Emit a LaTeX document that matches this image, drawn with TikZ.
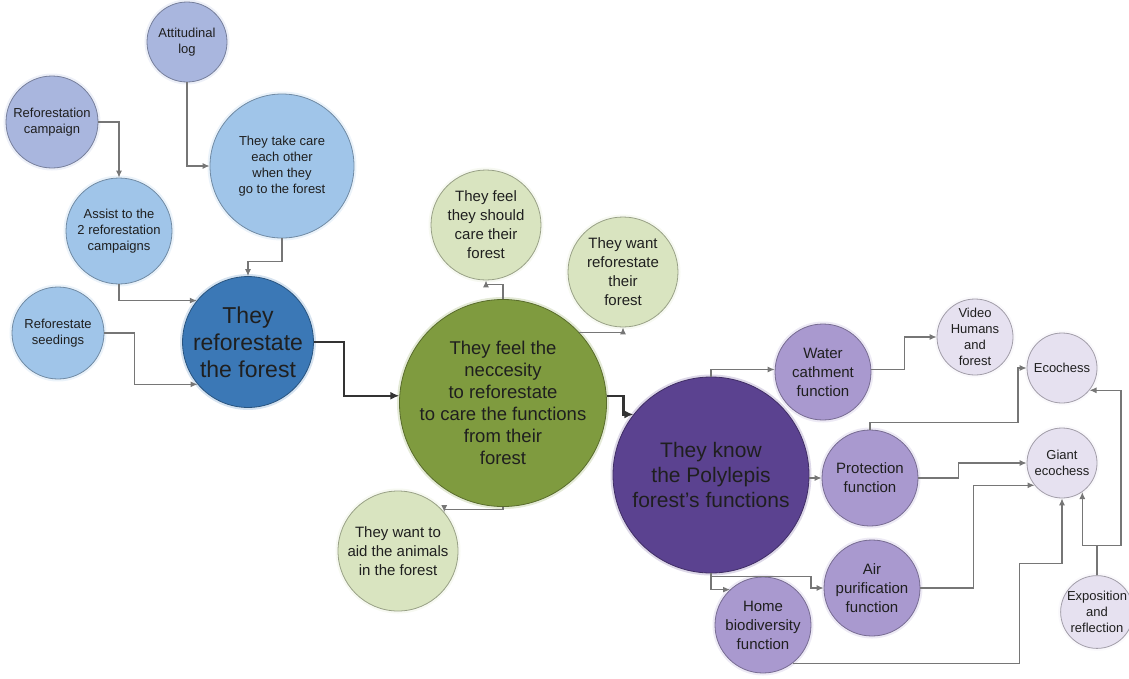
\documentclass[tikz,border=0pt]{standalone}
\usepackage{fontspec}
\setmainfont{Liberation Sans}
\usetikzlibrary{arrows.meta}
\definecolor{lavblue}{HTML}{A9B6DE}
\definecolor{skyblue}{HTML}{A0C5E9}
\definecolor{deepblue}{HTML}{3B78B6}
\definecolor{palegreen}{HTML}{D9E4C0}
\definecolor{olivegreen}{HTML}{7F9B3F}
\definecolor{deeppurple}{HTML}{5B4290}
\definecolor{midpurple}{HTML}{A999CF}
\definecolor{palelilac}{HTML}{E6E1F0}
\definecolor{linkgray}{HTML}{767676}
\begin{document}
\begin{tikzpicture}[x=1pt,y=-1pt]
 \tikzset{bubble/.style={draw,circle,inner sep=0pt,align=center,text=black!88,line width=0.8pt,
            preaction={draw=#1!60,line width=5pt,draw opacity=0.35},fill=#1,draw=#1!70!black},
   txtS/.style={font=\fontsize{13}{16}\selectfont},
   txtM/.style={font=\fontsize{15}{19}\selectfont},
   link/.style={->,>={Latex[length=7pt,width=6pt]},draw=linkgray,line width=1.1pt},
   mainlink/.style={->,>={Latex[length=9pt,width=8pt]},draw=black!80,line width=2.5pt}}
  \useasboundingbox (0,0) rectangle (1129,678);
  % forest actions
  \node[bubble=lavblue,txtS,minimum size=80pt] (AttLog) at (187,42) {Attitudinal\\log};
  \node[bubble=lavblue,txtS,minimum size=92pt] (RefCampaign) at (52,122) {Reforestation\\campaign};
  \node[bubble=skyblue,txtS,minimum size=144pt] (TakeCare) at (282,166) {They take care\\each other\\when they\\go to the forest};
  \node[bubble=skyblue,txtS,minimum size=106pt] (Assist) at (119,231) {Assist to the\\2 reforestation\\campaigns};
  \node[bubble=skyblue,txtS,minimum size=92pt] (Seedings) at (58,333) {Reforestate\\seedings};
  \node[bubble=deepblue,font=\fontsize{23}{27}\selectfont,minimum size=128pt] (Refo) at (248,342) {They\\reforestate\\the forest};
  % feelings
  \node[bubble=palegreen,txtM,minimum size=110pt] (Care) at (486,225) {They feel\\they should\\care their\\forest};
  \node[bubble=palegreen,txtM,minimum size=110pt] (Want) at (623,272) {They want\\reforestate\\their\\forest};
  \node[bubble=olivegreen,font=\fontsize{18.5}{22}\selectfont,minimum size=196pt] (Green) at (503,403) {They feel the\\neccesity\\to reforestate\\to care the functions\\from their\\forest};
  \node[bubble=palegreen,txtM,minimum size=120pt] (Aid) at (398,551) {They want to\\aid the animals\\in the forest};
  % functions
  \node[bubble=deeppurple,font=\fontsize{21}{25}\selectfont,minimum size=196pt] (Purple) at (711,475) {They know\\the Polylepis\\forest's functions};
  \node[bubble=midpurple,txtM,minimum size=96pt] (Water) at (823,372) {Water\\cathment\\function};
  \node[bubble=midpurple,txtM,minimum size=96pt] (Protection) at (870,478) {Protection\\function};
  \node[bubble=midpurple,txtM,minimum size=96pt] (Air) at (872,588) {Air\\purification\\function};
  \node[bubble=midpurple,txtM,minimum size=96pt] (Home) at (763,625) {Home\\biodiversity\\function};
  \node[bubble=palelilac,txtS,minimum size=76pt] (Video) at (975,337) {Video\\Humans\\and\\forest};
  \node[bubble=palelilac,txtS,minimum size=70pt] (Ecochess) at (1062,368) {Ecochess};
  \node[bubble=palelilac,txtS,minimum size=70pt] (Giant) at (1062,463) {Giant\\ecochess};
  \node[bubble=palelilac,txtS,minimum size=72pt] (Expo) at (1097,612) {Exposition\\and\\reflection};

  \draw[link] (RefCampaign.east) -| (Assist.north);
  \draw[link] (AttLog.south) |- (TakeCare.west);
  \draw[link] (TakeCare.south) -- ++(0,23) -| (Refo.north);
  \draw[link] (Assist.south) |- (Refo.141);
  \draw[link] (Seedings.east) -- ++(30,0) |- (Refo.220);
  \draw[mainlink] (Refo.east) -- ++(30,0) |- (Green.176);
  \draw[link] (Green.north) -- ++(0,-15) -| (Care.south);
  \draw[link] (Green.43) -| (Want.south);
  \draw[link] (Green.south) -- ++(0,3) -| (Aid.40);
  \draw[mainlink] (Green.4) -- ++(17,0) |- (Purple.142);
  \draw[link] (Purple.north) |- (Water.177);
  \draw[link] (Water.3) -- ++(33,0) |- (Video.west);
  \draw[link] (Purple.east |- Protection.west) -- (Protection.west);
  \draw[link] (Protection.north) -- ++(0,-7) -- ++(148,0) |- (Ecochess.west);
  \draw[link] (Protection.east) -- ++(40,0) |- (Giant.west);
  \draw[link] (Air.east) -- ++(53,0) |- (Giant.219);
  \draw[link] (Purple.south) |- (Home.133);
  \draw[link] (Purple.south) -- ++(0,3) -- ++(100,0) |- (Air.west);
  \draw[link] (Home.-52) -- ++(227,0) -- ++(0,-100) -| (Giant.south);
  \draw[link] (Expo.north) -- ++(0,-30) -| (Giant.-55);
  \draw[link] (Expo.north) -- ++(0,-30) -- ++(24,0) |- (Ecochess.-39);
\end{tikzpicture}
\end{document}
